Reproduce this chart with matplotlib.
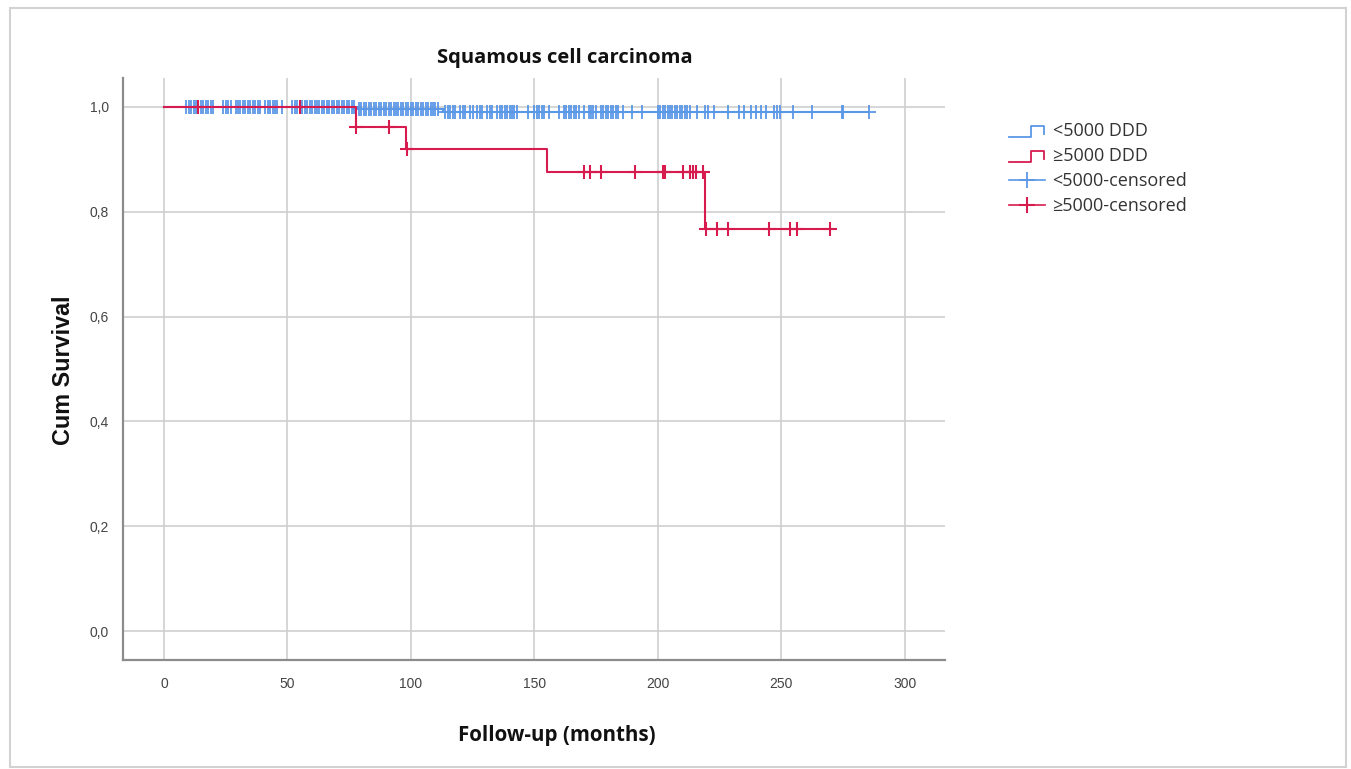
import matplotlib
matplotlib.use("Agg")
import matplotlib.pyplot as plt
import numpy as np
from matplotlib.legend_handler import HandlerBase
from matplotlib.lines import Line2D
from matplotlib.patches import Rectangle

# Kaplan-Meier step data (months, cumulative survival)
low_times = [0, 78, 113]
low_surv = [1.0, 0.995, 0.990]
low_end = 285
high_times = [0, 78, 98, 155, 219]
high_surv = [1.0, 0.962, 0.920, 0.876, 0.766]
high_end = 270

# censored observations
low_cens = [9, 10, 11, 12, 13, 15, 16, 17, 18, 19, 20, 24, 25, 26, 27,
            29, 30, 31, 32, 33, 34, 35, 36, 37, 38, 39, 41, 42, 43, 44, 45, 46,
            48, 52, 53, 54, 55, 56, 57, 58, 59, 60, 61, 62, 63, 64, 65, 66,
            67, 68, 69, 70, 71, 72, 73, 74, 75, 76, 77, 79, 80, 81, 82, 83,
            84, 85, 86, 87, 88, 89, 90, 91, 92, 93, 94, 95, 96, 97, 98, 99,
            100, 101, 102, 103, 104, 105, 106, 107, 108, 109, 110, 111, 114,
            115, 116, 117, 118, 120, 121, 122, 124, 125, 127, 128, 129, 131,
            132, 133, 135, 136, 137, 138, 139, 140, 141, 142, 143, 147.5, 150,
            151, 152, 153, 154, 156, 160, 162, 163, 164, 165, 166, 167, 168,
            170, 172, 173, 174, 175, 177, 178, 179, 180, 181, 182, 183, 184,
            186, 189.5, 193.5, 200, 201, 202, 203, 204, 205, 206, 207, 208,
            209, 210, 211, 212, 213, 216, 219, 220.5, 223, 228.5, 233, 235,
            238, 240, 242, 244, 247, 248.5, 249.6, 255, 262.5, 274.5, 275, 285.5]
high_cens = [14, 55, 78, 91, 98.5, 170, 172.6, 177, 191, 202, 203, 210.3,
             213, 214.2, 215.4, 218.3, 219.5, 224, 228.5, 245, 253.6, 256.5, 270]

labels = ["<5000 DDD", "\u22655000 DDD", "<5000-censored", "\u22655000-censored"]
blue = "#5a97e6"
red = "#d81b4f"


class HandlerStep(HandlerBase):
    """draws the little step icon SPSS uses in its legend"""
    def create_artists(self, legend, orig, xd, yd, w, h, fontsize, trans):
        xs = xd + np.array([0.0, 0.6, 0.6, 0.95, 0.95]) * w
        ys = yd + np.array([-0.05, -0.05, 0.8, 0.8, 0.2]) * h
        ln = Line2D(xs, ys, color=orig.get_color(), lw=1.3, transform=trans)
        return [ln]


def km_line(times, surv, end):
    x = list(times) + [end]
    y = list(surv) + [surv[-1]]
    return x, y


def surv_at(times, surv, t):
    idx = np.searchsorted(times, t, side="right") - 1
    return np.array(surv)[idx]


fig = plt.figure(figsize=(13.51, 7.69), dpi=100)
ax = fig.add_axes([0.091, 0.1417, 0.6085, 0.7569])

# outer frame like the screenshot
fig.add_artist(Rectangle((0.0075, 0.003), 0.989, 0.987, transform=fig.transFigure,
                         fill=False, edgecolor="#d2d2d2", lw=1.5))

lx, ly = km_line(low_times, low_surv, low_end)
hx, hy = km_line(high_times, high_surv, high_end)
l1, = ax.step(lx, ly, where="post", color=blue, lw=1.5, zorder=3)
l2, = ax.step(hx, hy, where="post", color=red, lw=1.5, zorder=5)
ax.plot(low_cens, surv_at(low_times, low_surv, low_cens), ls="none",
        marker="+", ms=10, mew=1.3, color=blue, zorder=4)
ax.plot(high_cens, surv_at(high_times, high_surv, high_cens), ls="none",
        marker="+", ms=10, mew=1.5, color=red, zorder=6)

ax.set_xlim(-16.6, 316.4)
ax.set_ylim(-0.0553, 1.055)
ax.set_xticks([0, 50, 100, 150, 200, 250, 300])
ax.set_yticks([0.0, 0.2, 0.4, 0.6, 0.8, 1.0])
ax.set_yticklabels(["0,0", "0,2", "0,4", "0,6", "0,8", "1,0"])
ax.grid(True, color="#cfcfcf", lw=1.2)
ax.set_axisbelow(True)
for s in ["top", "right"]:
    ax.spines[s].set_visible(False)
for s in ["left", "bottom"]:
    ax.spines[s].set_color("#8c8c8c")
    ax.spines[s].set_linewidth(1.6)
ax.tick_params(length=0, labelsize=10, labelcolor="#444444", pad=12,
               labelfontfamily="Liberation Sans")
ax.tick_params(axis="y", pad=10)

fig.text(0.418, 0.924, "Squamous cell carcinoma", ha="center", va="center",
         fontsize=14.5, fontweight="bold", family="Open Sans", color="#111111")
fig.text(0.412, 0.044, "Follow-up (months)", ha="center", va="center",
         fontsize=14.8, fontweight="bold", family="Open Sans", color="#111111")
fig.text(0.047, 0.519, "Cum Survival", ha="center", va="center", rotation=90,
         fontsize=16.8, fontweight="bold", family="Liberation Sans", color="#111111")

# legend proxies: censored entries show a line with the + on it
p3 = Line2D([], [], color=blue, lw=1.2, marker="+", ms=12, mew=1.3)
p4 = Line2D([], [], color=red, lw=1.2, marker="+", ms=12, mew=1.5)
leg = fig.legend([l1, l2, p3, p4], labels, loc="upper left",
                 bbox_to_anchor=(0.735, 0.862), frameon=False,
                 handler_map={l1: HandlerStep(), l2: HandlerStep()},
                 handlelength=2.0, handletextpad=0.4, labelspacing=0.38,
                 prop={"family": "Open Sans", "size": 13})
for t in leg.get_texts():
    t.set_color("#333333")

fig.savefig("out.png", dpi=100)
